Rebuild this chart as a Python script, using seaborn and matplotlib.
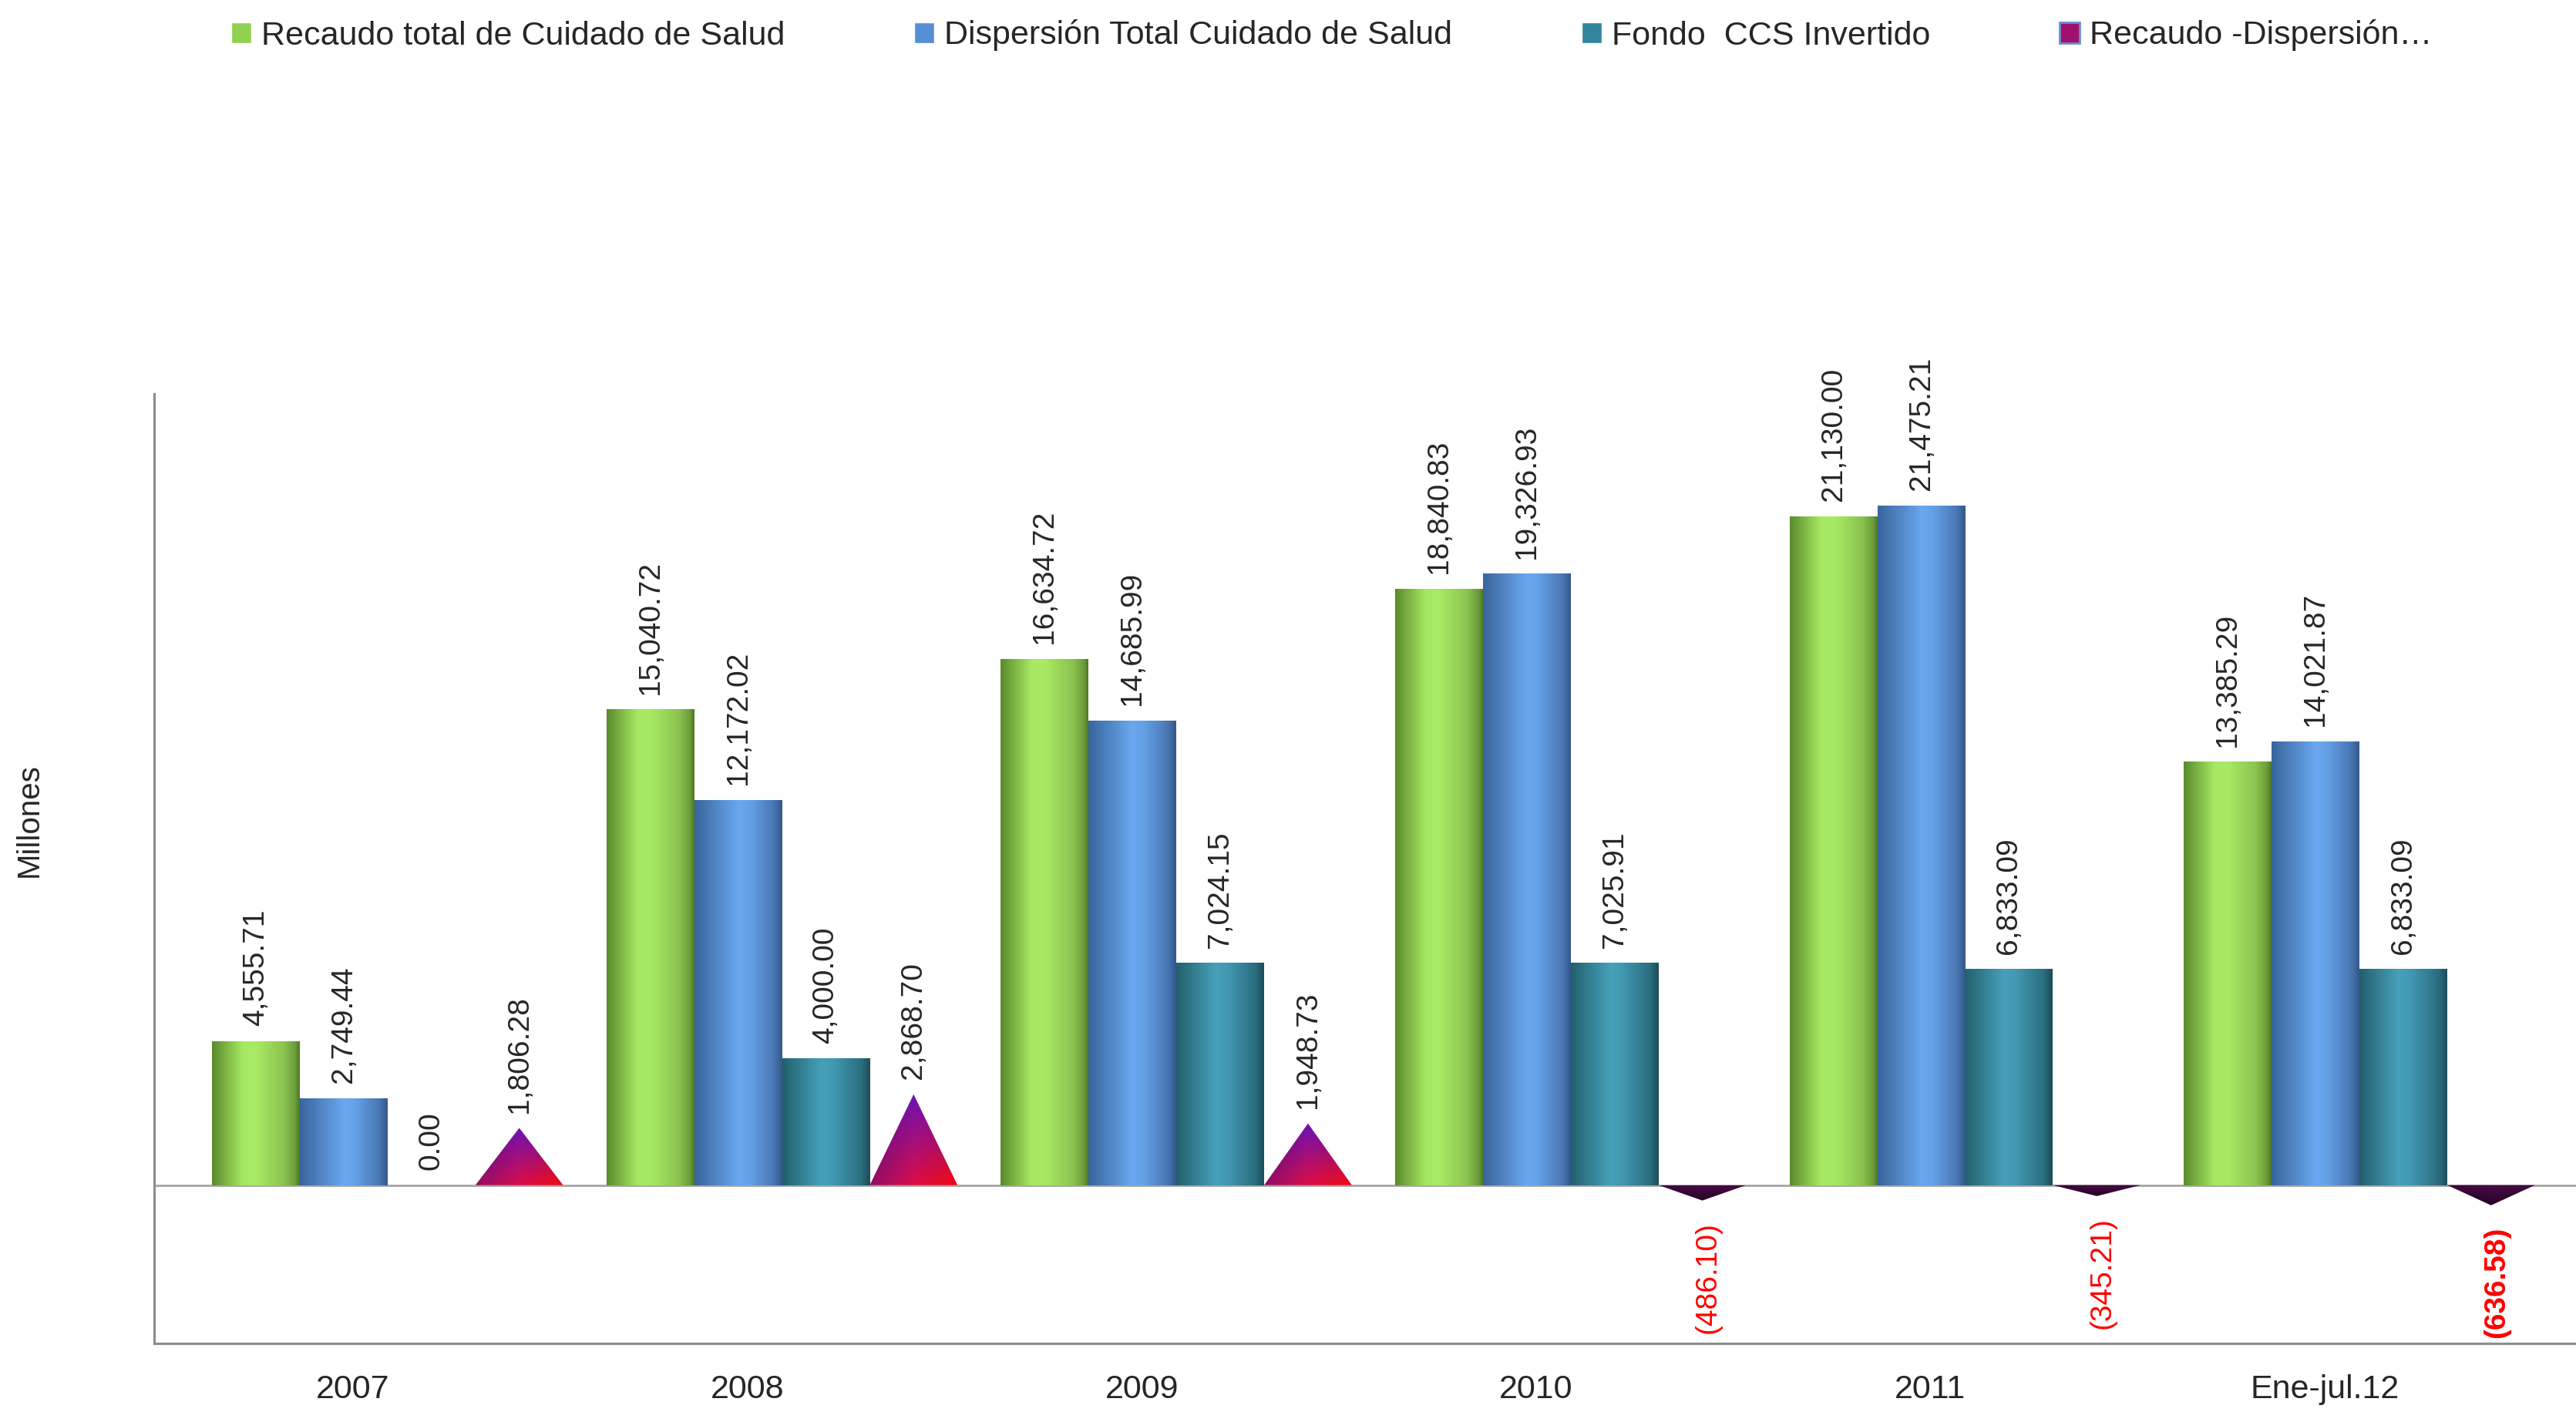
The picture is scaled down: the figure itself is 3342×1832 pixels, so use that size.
import numpy as np
import pandas as pd
import seaborn as sns
import matplotlib.pyplot as plt
from matplotlib.colors import LinearSegmentedColormap, to_rgb
from matplotlib.patches import Patch, Polygon
from matplotlib.transforms import ScaledTranslation

periodos = ['2007', '2008', '2009', '2010', '2011', 'Ene-jul.12']
recaudo = [4555.71, 15040.72, 16634.72, 18840.83, 21130.00, 13385.29]
dispersion = [2749.44, 12172.02, 14685.99, 19326.93, 21475.21, 14021.87]
fondo = [0.00, 4000.00, 7024.15, 7025.91, 6833.09, 6833.09]
diferencia = [1806.28, 2868.70, 1948.73, -486.10, -345.21, -636.58]
series = ['Recaudo total de Cuidado de Salud', 'Dispersión Total Cuidado de Salud',
          'Fondo  CCS Invertido', 'Recaudo -Dispersión…']

df = pd.DataFrame({'periodo': periodos * 4,
                   'serie': np.repeat(series, len(periodos)),
                   'valor': recaudo + dispersion + fondo + diferencia})

sns.set_style('white')
plt.rcParams['font.family'] = ['Liberation Sans', 'DejaVu Sans']

base = ['#92d050', '#558ed5', '#31859c', '#a0106e']

W, H = 3342, 1832
fig = plt.figure(figsize=(W / 100, H / 100), dpi=100)
ax = fig.add_axes([200 / W, 1 - 1743 / H, 1 - 200 / W, (1743 - 511) / H])
sns.barplot(data=df, x='periodo', y='valor', hue='serie', order=periodos,
            hue_order=series, palette=base, saturation=1, width=0.89,
            errorbar=None, legend=False, ax=ax)


def cylinder(stops):
    cmap = LinearSegmentedColormap.from_list('c', stops)
    return cmap(np.linspace(0, 1, 256))[None, :, :3]


def cone(bl, br, top, shade_pts, n=128):
    s = np.linspace(0, 1, n)
    bottom = (1 - s)[:, None] * np.array(to_rgb(bl)) + s[:, None] * np.array(to_rgb(br))
    t = np.linspace(0, 1, n)[:, None, None]
    img = (1 - t) * bottom[None, :, :] + t * np.array(to_rgb(top))
    shade = np.interp(s, [0, 0.5, 1], shade_pts)
    return np.clip(img * shade[None, :, None], 0, 1)


grads = [
    cylinder([(0, '#5a8a2c'), (0.35, '#a6e862'), (0.5, '#a8ea64'), (0.82, '#8cc450'), (0.95, '#6c9c3a'), (1, '#4c7822')]),
    cylinder([(0, '#38659c'), (0.5, '#6aa7ef'), (0.62, '#66a2e8'), (0.9, '#4a78b5'), (1, '#33578a')]),
    cylinder([(0, '#22606e'), (0.45, '#47a1ba'), (0.58, '#4299b1'), (0.9, '#2a6e80'), (1, '#1e4c58')]),
]

for cont, grad in zip(ax.containers[:3], grads):
    for bar in cont:
        x0, w, h = bar.get_x(), bar.get_width(), bar.get_height()
        if h == 0:
            continue
        im = ax.imshow(grad, extent=[x0, x0 + w, 0, h], aspect='auto',
                       interpolation='bicubic', zorder=2)
        im.set_clip_path(bar)

pos_cone = cone('#b8107c', '#ff0a10', '#6c12b4', [0.8, 1.0, 0.95])
neg_cone = cone('#1e0220', '#2a0428', '#4a0c48', [0.85, 1.0, 0.9])

for bar, v in zip(ax.containers[3], diferencia):
    bar.set_visible(False)
    x0, w = bar.get_x(), bar.get_width()
    tri = Polygon([(x0, 0), (x0 + w, 0), (x0 + w / 2, v)], closed=True,
                  facecolor='none', edgecolor='none')
    ax.add_patch(tri)
    if v >= 0:
        im = ax.imshow(pos_cone, extent=[x0, x0 + w, 0, v], origin='lower',
                       aspect='auto', interpolation='bicubic', zorder=2)
    else:
        im = ax.imshow(neg_cone, extent=[x0, x0 + w, v, 0], origin='lower',
                       aspect='auto', interpolation='bicubic', zorder=2)
    im.set_clip_path(tri)

# etiquetas de datos
for cont, vals in zip(ax.containers, [recaudo, dispersion, fondo, diferencia]):
    for i, (bar, v) in enumerate(zip(cont, vals)):
        xc = bar.get_x() + bar.get_width() / 2
        if v >= 0:
            ax.annotate(f'{v:,.2f}', (xc, v), xytext=(0, 14), textcoords='offset points',
                        rotation=90, ha='center', va='bottom', fontsize=28, zorder=3)
        else:
            ax.annotate(f'({abs(v):,.2f})', (xc, v), xytext=(5, -20), textcoords='offset points',
                        rotation=90, ha='center', va='top', fontsize=28, color='#ff0000',
                        fontweight='bold' if i == len(vals) - 1 else 'normal', zorder=3)

ax.axhline(0, color='#a6a6a6', lw=2, zorder=1)
ax.set_xlim(-0.592, 5.549)
ax.set_ylim(-5000, 25000)
ax.set_yticks([])
ax.set_xlabel('')
ax.set_ylabel('')
ax.tick_params(axis='x', length=0, pad=29, labelsize=31)
for lab in ax.get_xticklabels():
    lab.set_transform(lab.get_transform() + ScaledTranslation(-0.45, 0, fig.dpi_scale_trans))

for s in ['top', 'right']:
    ax.spines[s].set_visible(False)
for s in ['left', 'bottom']:
    ax.spines[s].set_color('#8c8c8c')
    ax.spines[s].set_linewidth(2.2)

fig.text(38 / W, 1 - 1064 / H, 'Millones', rotation=90, ha='center', va='center', fontsize=29)

handles = [Patch(facecolor=c) for c in base[:3]] + [Patch(facecolor='#a0106e', edgecolor='#6a8fd0', lw=2)]
fig.legend(handles, series, loc='center', bbox_to_anchor=(0.517, 1 - 46 / H), ncol=4,
           frameon=False, fontsize=31, handlelength=0.6, handleheight=0.6,
           handletextpad=0.3, columnspacing=3.9)

fig.savefig('out.png', dpi=100)
